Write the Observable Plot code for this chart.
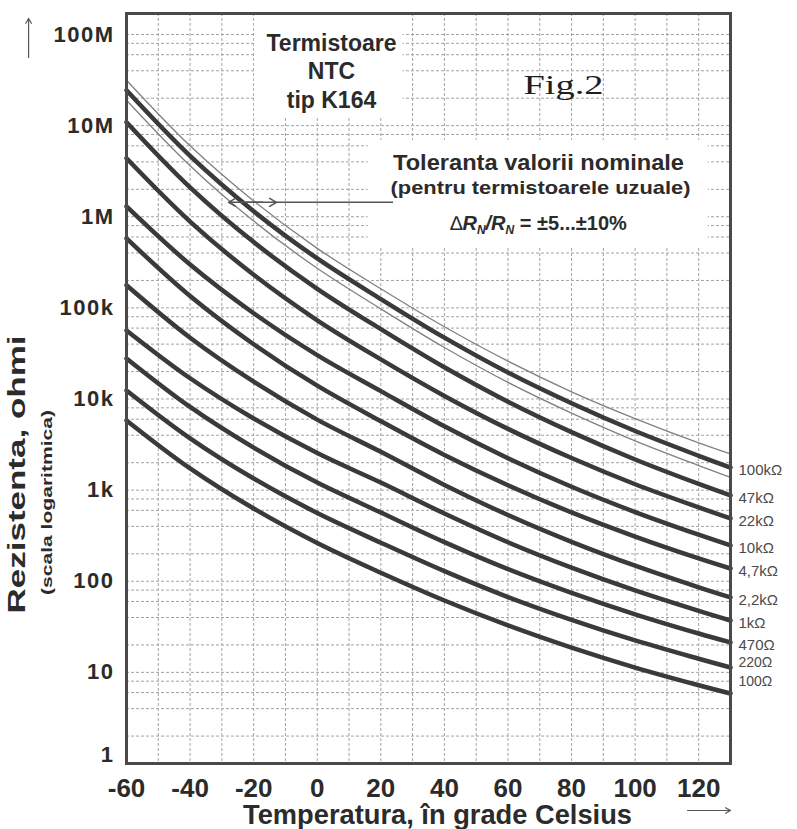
<!DOCTYPE html>
<html><head><meta charset="utf-8">
<script src="https://cdn.jsdelivr.net/npm/d3@7"></script>
<script src="https://cdn.jsdelivr.net/npm/@observablehq/plot@0.6"></script>
<style>
html,body{margin:0;padding:0;background:#fff;}
#chart{width:797px;height:829px;}
</style></head><body><div id="chart"></div>
<script>
// ---- data ----
const temperatures = [-60, -40, -20, 0, 20, 40, 60, 80, 100, 120, 130];
const seriesNames = ["100kΩ", "47kΩ", "22kΩ", "10kΩ", "4,7kΩ", "2,2kΩ", "1kΩ", "470Ω", "220Ω", "100Ω"];
const r100k = [2.44e7, 4.65e6, 1.15e6, 3.49e5, 1.25e5, 4.71e4, 1.95e4, 8.97e3, 4.45e3, 2.38e3, 1.77e3];
const r47k  = [1.09e7, 2.10e6, 5.27e5, 1.62e5, 5.85e4, 2.23e4, 9.34e3, 4.33e3, 2.17e3, 1.17e3, 875];
const r22k  = [4.38e6, 8.85e5, 2.31e5, 7.31e4, 2.72e4, 1.08e4, 4.70e3, 2.25e3, 1.16e3, 646, 489];
const r10k  = [1.30e6, 2.99e5, 8.73e4, 3.03e4, 1.22e4, 5.01e3, 2.24e3, 1.09e3, 575, 324, 247];
const r4k7  = [5.79e5, 1.35e5, 3.99e4, 1.40e4, 5.71e3, 2.43e3, 1.13e3, 569, 309, 178, 138];
const r2k2  = [1.77e5, 4.70e4, 1.55e4, 5.94e3, 2.63e3, 1.14e3, 533, 271, 148, 85.7, 66.4];
const r1k   = [5.66e4, 1.69e4, 6.11e3, 2.55e3, 1.21e3, 554, 268, 141, 79.3, 47.3, 37.1];
const r470  = [2.79e4, 8.19e3, 2.93e3, 1.21e3, 568, 269, 136, 74.6, 43.4, 26.7, 21.3];
const r220  = [1.24e4, 3.70e3, 1.34e3, 561, 265, 129, 67.1, 37.7, 22.4, 14.1, 11.3];
const r100  = [5.82e3, 1.73e3, 628, 263, 124, 61.5, 32.8, 18.7, 11.3, 7.23, 5.87];
// tolerance band drawn around the 100k curve
const tolUpper = [3.15e7, 6.0e6, 1.49e6, 4.5e5, 1.62e5, 6.2e4, 2.6e4, 1.2e4, 6.1e3, 3.3e3, 2.5e3];
const tolLower = [1.90e7, 3.63e6, 8.97e5, 2.72e5, 9.75e4, 3.67e4, 1.52e4, 7.0e3, 3.47e3, 1.86e3, 1.38e3];
const xTicks = [-60, -40, -20, 0, 20, 40, 60, 80, 100, 120];
const xTickLabels = ["-60", "-40", "-20", "0", "20", "40", "60", "80", "100", "120"];
const yTicks = [1, 10, 100, 1e3, 1e4, 1e5, 1e6, 1e7, 1e8];
const yTickLabels = ["1", "10", "100", "1k", "10k", "100k", "1M", "10M", "100M"];

// ---- build tables ----
const curveValues = [r100k, r47k, r22k, r10k, r4k7, r2k2, r1k, r470, r220, r100];
const rows = seriesNames.flatMap((name, i) => temperatures.map((T, j) => ({series: name, T, R: curveValues[i][j]})));
const tolRows = [["upper", tolUpper], ["lower", tolLower]].flatMap(([k, v]) => temperatures.map((T, j) => ({band: k, T, R: v[j]})));
const last = temperatures.length - 1;
const ends = seriesNames.map((name, i) => ({series: name, T: temperatures[last], R: curveValues[i][last]}));
const yLabelMap = new Map(yTicks.map((v, i) => [v, yTickLabels[i]]));
const xLabelMap = new Map(xTicks.map((v, i) => [v, xTickLabels[i]]));

const xGrid = d3.range(-50, 130, 10);
const yGrid = [];
for (let e = 0; e <= 8; e++) {
  const d = Math.pow(10, e);
  if (e > 0) yGrid.push(d);
  if (e < 8) for (const m of [2, 4, 6, 8]) yGrid.push(m * d);
}

const ink = "#2b2b2b";
const bold = {fontWeight: "bold", fill: ink, fontFamily: "'Liberation Sans', Arial, sans-serif"};
const lab = {x: "T", y: "R", text: "series", dx: 8, textAnchor: "start", fill: "#4a4a4a"};

const chart = Plot.plot({
  width: 797, height: 829,
  marginLeft: 126, marginRight: 67, marginTop: 13, marginBottom: 66,
  x: {domain: [-60, 130]},
  y: {type: "log", domain: [1, 1.7e8]},
  style: {fontFamily: "'Liberation Sans', Arial, sans-serif", background: "#fff", overflow: "visible"},
  marks: [
    Plot.ruleX(xGrid, {stroke: "#a3a3a3", strokeWidth: 1, strokeDasharray: "3,2"}),
    Plot.ruleY(yGrid, {stroke: "#a3a3a3", strokeWidth: 1, strokeDasharray: "3,2"}),
    // white boxes behind the annotations
    Plot.rect([{x1: -19.7, x2: 27, y1: 1.2e7, y2: 1.7e8}, {x1: 16, x2: 123, y1: 4.6e5, y2: 6.9e6}],
      {x1: "x1", x2: "x2", y1: "y1", y2: "y2", fill: "white"}),
    Plot.line(tolRows, {x: "T", y: "R", z: "band", stroke: "#808080", strokeWidth: 1.3, curve: "catmull-rom"}),
    Plot.line(rows, {x: "T", y: "R", z: "series", stroke: "#3a3a3a", strokeWidth: 4.5, curve: "catmull-rom"}),
    Plot.frame({stroke: "#4a4a4a", strokeWidth: 3}),
    Plot.axisX(xTicks, {tickSize: 0, tickPadding: 15, fontSize: 26, label: null, tickFormat: d => xLabelMap.get(d), ...bold}),
    Plot.axisY(yTicks.slice(1), {tickSize: 0, tickPadding: 12, fontSize: 22, label: null, tickFormat: d => yLabelMap.get(d), ...bold}),
    Plot.axisY([1], {tickSize: 0, tickPadding: 12, fontSize: 22, label: null, dy: -9, tickFormat: d => yLabelMap.get(d), ...bold}),
    // curve labels at the right
    Plot.text(ends.slice(0, 8), {...lab, dy: 3, fontSize: 15}),
    Plot.text(ends.slice(8, 9), {...lab, dy: -5, fontSize: 14}),
    Plot.text(ends.slice(9), {...lab, dy: -12, fontSize: 14}),
    // annotations
    Plot.text(["Termistoare\nNTC\ntip K164"], {text: d => d, frameAnchor: "top-left", dx: 205, dy: 57, textAnchor: "middle", lineAnchor: "middle", lineHeight: 1.22, fontSize: 23, ...bold}),
    Plot.text(["Fig.2"], {text: d => d, frameAnchor: "top-left", dx: 437, dy: 72, textAnchor: "middle", lineAnchor: "middle", fontSize: 28, fill: "#1e1e1e", fontFamily: "'Liberation Serif', 'DejaVu Serif', serif"}),
    Plot.text(["Toleranta valorii nominale"], {text: d => d, frameAnchor: "top-left", dx: 412, dy: 149, textAnchor: "middle", lineAnchor: "middle", fontSize: 22, ...bold}),
    Plot.text(["(pentru termistoarele uzuale)"], {text: d => d, frameAnchor: "top-left", dx: 414, dy: 174, textAnchor: "middle", lineAnchor: "middle", fontSize: 19, ...bold}),
    Plot.text(["ΔRN/RN = ±5...±10%"], {text: d => d, frameAnchor: "top-left", dx: 412, dy: 210, textAnchor: "middle", lineAnchor: "middle", fontSize: 20, ...bold}),
    // tolerance pointer
    Plot.ruleY([1.44e6], {x1: -12.8, x2: 24, stroke: "#555", strokeWidth: 1.5}),
    Plot.arrow([{a: -17.2, b: -27.9}], {x1: "a", x2: "b", y1: () => 1.44e6, y2: () => 1.44e6, stroke: "#555", strokeWidth: 1.5, headLength: 8}),
    Plot.arrow([{a: -24, b: -12.8}], {x1: "a", x2: "b", y1: () => 1.44e6, y2: () => 1.44e6, stroke: "#555", strokeWidth: 1.5, headLength: 8}),
    // axis titles
    Plot.text(["Rezistenta, ohmi"], {text: d => d, frameAnchor: "left", dx: -109, dy: 86, rotate: -90, textAnchor: "middle", lineAnchor: "middle", fontSize: 24, ...bold}),
    Plot.text(["(scala logaritmica)"], {text: d => d, frameAnchor: "left", dx: -79, dy: 114, rotate: -90, textAnchor: "middle", lineAnchor: "middle", fontSize: 15, ...bold}),
    Plot.text(["Temperatura, în grade Celsius"], {text: d => d, frameAnchor: "bottom", dx: 9, dy: 52, textAnchor: "middle", lineAnchor: "middle", fontSize: 27, ...bold}),
    // axis direction arrows
    Plot.arrow([{a: 116.5, b: 130}], {x1: "a", x2: "b", y1: () => 0.305, y2: () => 0.305, stroke: "#555", strokeWidth: 1.2, headLength: 7}),
    Plot.arrow([{a: 5.6e7, b: 1.5e8}], {x1: () => -90.8, x2: () => -90.8, y1: "a", y2: "b", stroke: "#555", strokeWidth: 1.2, headLength: 7})
  ]
});
document.getElementById("chart").append(chart);

// ---- text fitting / formatting ----
const fit = new Map([
  ["Rezistenta, ohmi", 278], ["(scala logaritmica)", 185], ["Temperatura, în grade Celsius", 389],
  ["Toleranta valorii nominale", 291], ["(pentru termistoarele uzuale)", 300], ["Fig.2", 80]
]);
d3.select(chart).selectAll("text").each(function() {
  const t = this.textContent;
  if (fit.has(t) && this.children.length === 0) {
    this.setAttribute("textLength", fit.get(t));
    this.setAttribute("lengthAdjust", "spacingAndGlyphs");
  }
  if (t === "ΔRN/RN = ±5...±10%") {
    const sel = d3.select(this);
    sel.text(null);
    sel.append("tspan").attr("font-weight", "normal").text("∆");
    sel.append("tspan").attr("font-style", "italic").text("R");
    sel.append("tspan").attr("font-size", "0.6em").attr("dy", "0.3em").attr("font-style", "italic").text("N");
    sel.append("tspan").attr("dy", "-0.18em").attr("font-style", "italic").text("/R");
    sel.append("tspan").attr("font-size", "0.6em").attr("dy", "0.3em").attr("font-style", "italic").text("N");
    sel.append("tspan").attr("dy", "-0.18em").text(" = ±5...±10%");
  }
});
d3.select(chart).selectAll('g[aria-label="y-axis tick label"] text').style("letter-spacing", "1.5px");
</script>
</body></html>
